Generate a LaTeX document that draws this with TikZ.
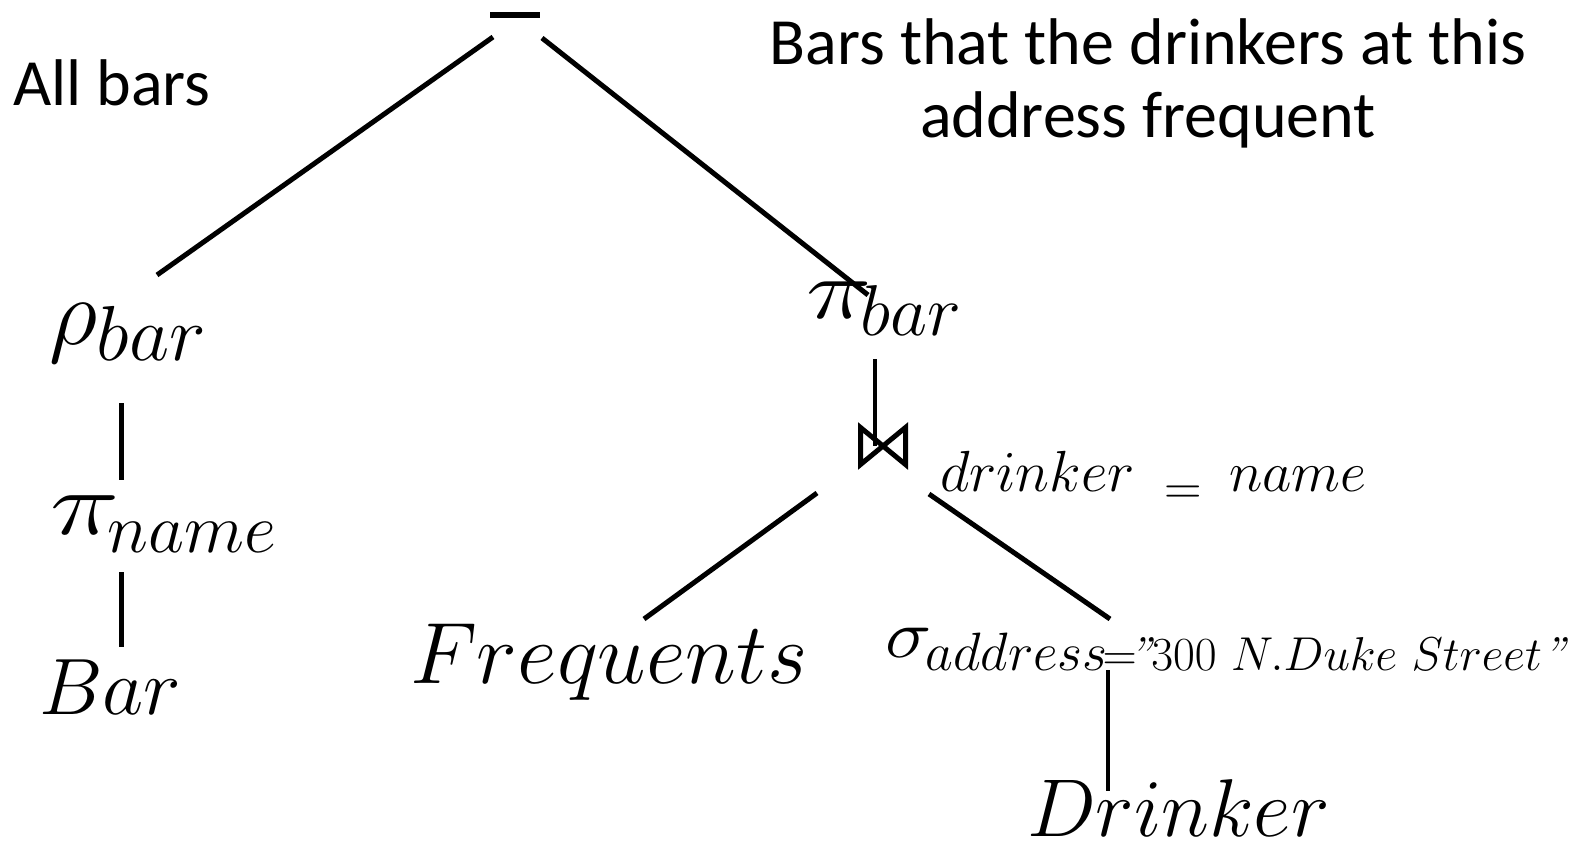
\RequirePackage{fix-cm}
\documentclass[tikz,border=0pt]{standalone}
\usepackage{graphicx}
\usepackage[no-math]{fontspec}
\newfontfamily\calib{Carlito}
\usetikzlibrary{calc}
\newcommand\fs[1]{\fontsize{#1}{#1}\selectfont}
\newcommand\lowsub[3]{\raisebox{-#1pt}{\fs{#2}$#3$}}
\newcommand\wide[2]{\scalebox{#1}[1]{#2}}
\tikzset{
  txt/.style={inner sep=0pt, outer sep=0pt, anchor=base west},
  edge/.style={line width=5pt},
  medge/.style={line width=4pt},
  tedge/.style={line width=3.5pt},
}
\begin{document}
\begin{tikzpicture}[x=1pt,y=-1pt]
\useasboundingbox (0,0) rectangle (1586,848);
\fill[white] (0,0) rectangle (1586,848);
% labels
\node[txt, font=\calib\fs{66}] (allbars) at (13,106) {All bars};
\node[inner sep=0pt, anchor=base, align=center, font=\calib\fontsize{66}{73}\selectfont] (note) at (1148,137) {Bars that the drinkers at this\\address frequent};
% tree nodes
\node[inner sep=0pt] (minus) at (514.5,15) {\rule{50pt}{5.5pt}};
\node[txt] (rho) at (49,344) {{\fs{95}$\rho$}\lowsub{16}{78}{bar}};
\node[txt] (piname) at (50,534) {\wide{1.3}{\fs{90}$\pi$}\hspace{-11.4pt}\lowsub{18}{70}{name}};
\node[txt] (bar) at (39,714) {\fs{80}$Bar$};
\node[txt] (pibar) at (806,318) {\wide{1.3}{\fs{85}$\pi$}\hspace{-10.5pt}\lowsub{17}{72}{bar}};
\node[inner sep=0pt, minimum width=50pt, minimum height=42pt] (join) at (883,446) {};
\node[txt] (cond) at (940,491) {{\fs{58}$drinker$}\hspace{30pt}\raisebox{-13pt}{\fs{52}$=$}\hspace{27pt}{\fs{57}$name$}};
\node[txt] (freq) at (410,683) {\fs{87}$Frequents$};
\node[txt] (sigma) at (885,657) {\wide{1.15}{\fs{68}$\sigma$}\hspace{-5.8pt}\lowsub{13}{54}{address}\lowsub{13}{47.5}{\mkern-2mu{=}\mkern-3mu\mbox{\itshape ''}300\ N.Duke\ Street\mbox{\itshape "}}};
\node[txt] (drinker) at (1027,836) {\fs{82}$Drinker$};
% bowtie symbol
\draw[line width=5pt, line join=miter, miter limit=3]
  ([shift={(-22.5,-18.5)}]join.center) -- ([shift={(-22.5,18.5)}]join.center)
  -- ([shift={(22.5,-18.5)}]join.center) -- ([shift={(22.5,18.5)}]join.center) -- cycle;
% connectors
\draw[edge] ([shift={(-21.5,22)}]minus.center) -- ([shift={(108,-69)}]rho.base west);
\draw[edge] ([shift={(27.5,23)}]minus.center) -- ([shift={(62,-23)}]pibar.base west);
\draw[edge] ([shift={(72,59)}]rho.base west) -- ([shift={(71,-54)}]piname.base west);
\draw[edge] ([shift={(71,38)}]piname.base west) -- ([shift={(82,-67)}]bar.base west);
\draw[medge] ([shift={(69,41)}]pibar.base west) -- ([shift={(-8,0)}]join.center);
\draw[edge] ([shift={(-66,47)}]join.center) -- ([shift={(234,-64)}]freq.base west);
\draw[edge] ([shift={(46,48)}]join.center) -- ([shift={(225,-38)}]sigma.base west);
\draw[tedge] ([shift={(223,13)}]sigma.base west) -- ([shift={(81,-45)}]drinker.base west);
\end{tikzpicture}
\end{document}
